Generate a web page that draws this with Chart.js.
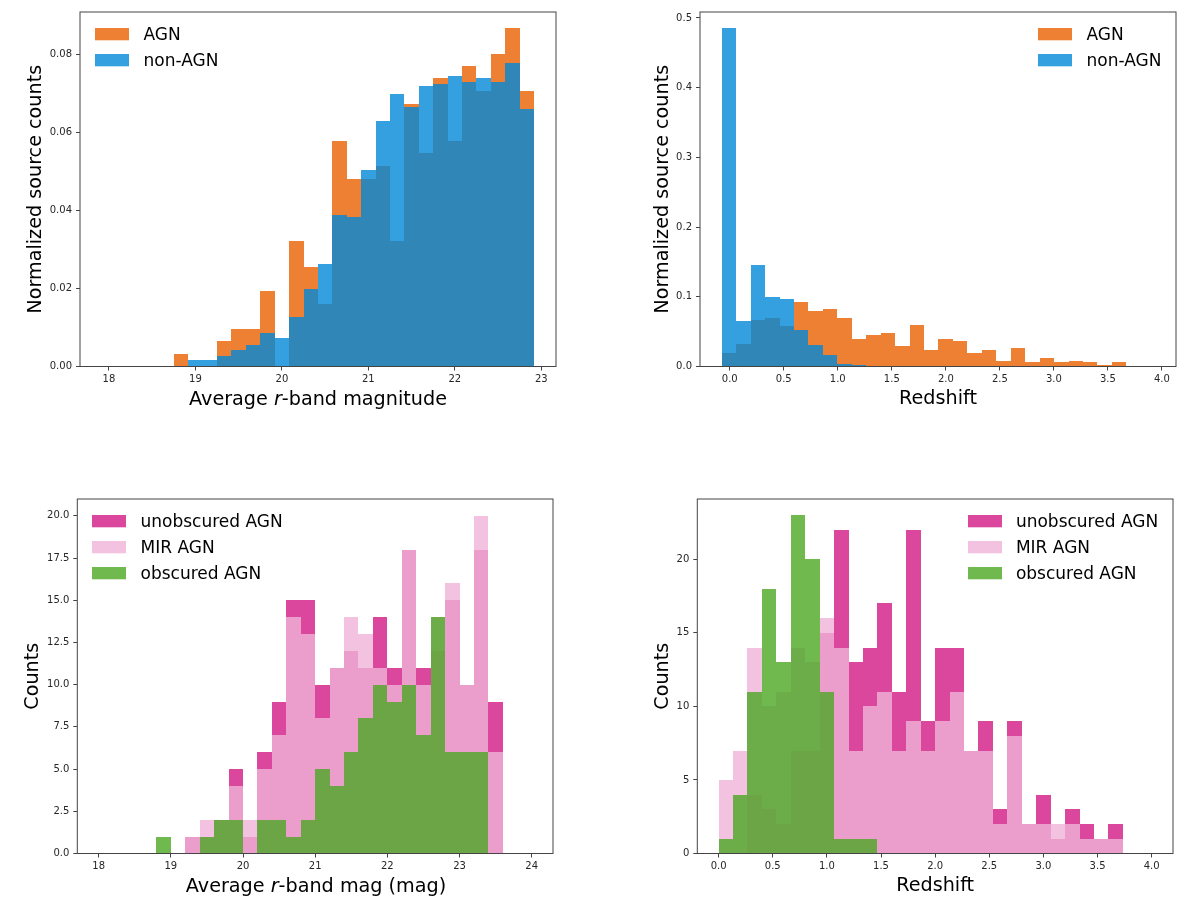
<!DOCTYPE html>
<html>
<head>
<meta charset="utf-8">
<title>AGN histograms</title>
<script src="https://cdn.jsdelivr.net/npm/chart.js@4"></script>
<style>
  html, body { margin: 0; background: #fff; }
  #page { position: relative; width: 1200px; height: 904px; overflow: hidden; }
  canvas { position: absolute; }
  .xtitle { position: absolute; font: 19.2px "DejaVu Sans"; color: #000; white-space: nowrap; transform: translate(-50%, -50%); }
</style>
</head>
<body>
<div id="page">
  <canvas id="magTop" width="600" height="452" style="left:0;top:0"></canvas>
  <canvas id="zTop" width="600" height="452" style="left:600px;top:0"></canvas>
  <canvas id="magBottom" width="600" height="452" style="left:0;top:452px"></canvas>
  <canvas id="zBottom" width="600" height="452" style="left:600px;top:452px"></canvas>
  <div class="xtitle" style="left:318px;top:398px">Average <i>r</i>-band magnitude</div>
  <div class="xtitle" style="left:316px;top:885px">Average <i>r</i>-band mag (mag)</div>
</div>
<script>
// -------- Data --------
const magBinsTop = [18.8333, 19, 19.1667, 19.3333, 19.5, 19.6667, 19.8333, 20, 20.1667, 20.3333, 20.5, 20.6667, 20.8333, 21, 21.1667, 21.3333, 21.5, 21.6667, 21.8333, 22, 22.1667, 22.3333, 22.5, 22.6667, 22.8333];
const agnMag = [0.0032, 0, 0, 0.0065, 0.0097, 0.0097, 0.0194, 0, 0.0322, 0.0256, 0.016, 0.0577, 0.0481, 0.0481, 0.0515, 0.0322, 0.0674, 0.0547, 0.0739, 0.0578, 0.0771, 0.0707, 0.0802, 0.0867, 0.0707];
const nonAgnMag = [0, 0.0016, 0.0016, 0.0027, 0.0042, 0.0054, 0.0086, 0.0073, 0.0127, 0.02, 0.0262, 0.0388, 0.0383, 0.0505, 0.0629, 0.0698, 0.0666, 0.0719, 0.0724, 0.0745, 0.073, 0.0739, 0.073, 0.0777, 0.066];

const zBinsTop = [-0.0072, 0.1265, 0.2603, 0.394, 0.5278, 0.6615, 0.7952, 0.929, 1.0627, 1.1965, 1.3302, 1.4639, 1.5977, 1.7314, 1.8652, 1.9989, 2.1326, 2.2664, 2.4001, 2.5339, 2.6676, 2.8013, 2.9351, 3.0688, 3.2026, 3.3363, 3.47, 3.6038];
const agnZ = [0.019, 0.032, 0.0665, 0.069, 0.058, 0.0928, 0.079, 0.082, 0.069, 0.04, 0.0455, 0.048, 0.029, 0.059, 0.024, 0.04, 0.037, 0.019, 0.024, 0.008, 0.027, 0.006, 0.0115, 0.006, 0.008, 0.006, 0.0024, 0.006];
const nonAgnZ = [0.485, 0.0655, 0.146, 0.1, 0.097, 0.052, 0.031, 0.017, 0.004, 0.002, 0, 0, 0, 0, 0, 0, 0, 0, 0, 0, 0, 0, 0, 0, 0, 0, 0, 0];

const magBinsBottom = [18.9, 19.1, 19.3, 19.5, 19.7, 19.9, 20.1, 20.3, 20.5, 20.7, 20.9, 21.1, 21.3, 21.5, 21.7, 21.9, 22.1, 22.3, 22.5, 22.7, 22.9, 23.1, 23.3, 23.5];
const unobscuredMag = [0, 0, 1, 1, 2, 5, 1, 6, 9, 15, 15, 10, 11, 12, 11, 14, 11, 18, 11, 12, 15, 10, 18, 9];
const mirMag = [0, 0, 1, 2, 2, 4, 2, 5, 7, 14, 13, 8, 11, 14, 13, 11, 10, 18, 10, 14, 16, 10, 20, 6];
const obscuredMag = [1, 0, 0, 1, 2, 2, 0, 2, 2, 1, 2, 5, 4, 6, 8, 10, 9, 10, 7, 14, 6, 6, 6, 0];

const zBinsBottom = [0.0667, 0.2, 0.3333, 0.4667, 0.6, 0.7333, 0.8667, 1, 1.1333, 1.2667, 1.4, 1.5333, 1.6667, 1.8, 1.9333, 2.0667, 2.2, 2.3333, 2.4667, 2.6, 2.7333, 2.8667, 3, 3.1333, 3.2667, 3.4, 3.5333, 3.6667];
const unobscuredZ = [0, 0, 4, 3, 2, 7, 7, 15, 22, 13, 14, 17, 11, 22, 9, 14, 14, 7, 9, 3, 9, 2, 4, 1, 3, 2, 1, 2];
const mirZ = [5, 7, 14, 10, 11, 14, 13, 16, 14, 7, 10, 11, 7, 9, 7, 9, 11, 7, 7, 2, 8, 2, 2, 2, 2, 1, 1, 1];
const obscuredZ = [1, 4, 11, 18, 13, 23, 20, 11, 1, 1, 1, 0, 0, 0, 0, 0, 0, 0, 0, 0, 0, 0, 0, 0, 0, 0, 0, 0];

const magTicksTop = [18, 19, 20, 21, 22, 23];
const magTicksBottom = [18, 19, 20, 21, 22, 23, 24];
const zTicks = [0, 0.5, 1, 1.5, 2, 2.5, 3, 3.5, 4];
const normTicksMag = [0, 0.02, 0.04, 0.06, 0.08];
const normTicksZ = [0, 0.1, 0.2, 0.3, 0.4, 0.5];
const countTicksMag = [0, 2.5, 5, 7.5, 10, 12.5, 15, 17.5, 20];
const countTicksZ = [0, 5, 10, 15, 20];

// -------- Style --------
const ORANGE = 'rgba(232,96,0,0.8)';
const BLUE = 'rgba(1,136,216,0.8)';
const MAGENTA = 'rgba(211,25,134,0.8)';
const PINK = 'rgba(239,179,216,0.8)';
const GREEN = 'rgba(76,167,35,0.8)';
const FONT = '"DejaVu Sans"';
const INK = '#262626';
const FRAME = '#444';
const SWATCH_INSET = 5.7; // pushes the legend text further from its swatch

function swatch(color) {
  // 2px spare at the bottom lifts the box to the visual middle of the text
  const c = document.createElement('canvas');
  c.width = 34;
  c.height = 14;
  const g = c.getContext('2d');
  g.fillStyle = color;
  g.fillRect(0, 0, 34, 12);
  return c;
}

// Frame around the plot area, and legend placed inside the axes
const panelPlugin = {
  id: 'panel',
  afterLayout(chart, args, opts) {
    const legend = chart.legend;
    const pad = legend.options.labels.padding;
    const size = legend.options.labels.font.size;
    legend.left = opts.legendX - SWATCH_INSET - pad;
    legend.top = opts.legendY + 1 - size / 2 - pad;
    legend.right = legend.left + legend.width + 20;
    legend.bottom = legend.top + 120;
  },
  afterDatasetsUpdate(chart) {
    // snap bars to whole pixels, translucent neighbours show seams otherwise
    chart.getSortedVisibleDatasetMetas().forEach((meta) => {
      meta.data.forEach((bar) => {
        const l = Math.round(bar.x - bar.width / 2);
        const r = Math.round(bar.x + bar.width / 2);
        bar.x = (l + r) / 2;
        bar.width = r - l;
        bar.y = Math.round(bar.y);
        bar.height = bar.base - bar.y;
      });
    });
  },
  afterDraw(chart) {
    const { ctx, chartArea: a } = chart;
    ctx.save();
    ctx.strokeStyle = FRAME;
    ctx.lineWidth = 1;
    ctx.strokeRect(a.left, a.top, a.right - a.left, a.bottom - a.top);
    ctx.restore();
  }
};

function axisBase(ticks, format, min, max, pad) {
  return {
    type: 'linear',
    min,
    max,
    offset: false,
    border: { display: false },
    grid: { offset: false, drawOnChartArea: false, tickLength: 4, tickColor: FRAME, tickWidth: 1 },
    ticks: {
      autoSkip: false,
      maxRotation: 0,
      color: INK,
      padding: pad,
      font: { family: FONT, size: 10 },
      callback: format
    },
    afterBuildTicks: (axis) => { axis.ticks = ticks.map((value) => ({ value })); }
  };
}

function makePanel(id, p) {
  // Chart.js paints the first dataset on top, so the list goes in reversed
  const datasets = [...p.series].reverse().map(([label, data, color]) => ({
    label,
    backgroundColor: color,
    borderWidth: 0,
    inflateAmount: 0,
    barPercentage: 1,
    categoryPercentage: 1,
    grouped: false,
    data: p.bins.map((x, i) => ({ x, y: data[i] }))
  }));

  const x = axisBase(p.xTicks, p.xFormat, p.xMin, p.xMax, 3);
  x.afterFit = (s) => { s.height = p.bottomSpace; };
  if (p.xTitle) {
    x.title = { display: true, text: p.xTitle, color: '#000', font: { family: FONT, size: 19.2 }, padding: { top: 0, bottom: p.xTitlePad } };
  }
  const y = axisBase(p.yTicks, p.yFormat, 0, p.yMax, 4);
  y.afterFit = (s) => { s.width = p.left; };
  y.title = { display: true, text: p.yTitle, color: '#000', font: { family: FONT, size: 19.2 }, padding: { top: p.yTitlePad, bottom: 0 } };

  return new Chart(document.getElementById(id), {
    type: 'bar',
    data: { datasets },
    plugins: [panelPlugin],
    options: {
      responsive: false,
      animation: false,
      layout: { padding: { top: p.top, right: p.right, left: 0, bottom: 0 } },
      scales: { x, y },
      plugins: {
        tooltip: { enabled: false },
        panel: { legendX: p.legendX, legendY: p.legendY },
        legend: {
          position: 'chartArea',
          align: 'start',
          reverse: true,
          labels: {
            usePointStyle: true,
            pointStyleWidth: 34 + 2 * SWATCH_INSET,
            boxHeight: 12,
            padding: 9,
            color: '#000',
            font: { family: FONT, size: 17 },
            generateLabels(chart) {
              return Chart.defaults.plugins.legend.labels.generateLabels(chart).map((item) => {
                item.pointStyle = swatch(chart.data.datasets[item.datasetIndex].backgroundColor);
                return item;
              });
            }
          }
        }
      }
    }
  });
}

// -------- Panels --------
window.addEventListener('DOMContentLoaded', () => {
  const fmt = (d) => (v) => Number(v).toFixed(d);

  makePanel('magTop', {
    bins: magBinsTop,
    series: [['AGN', agnMag, ORANGE], ['non-AGN', nonAgnMag, BLUE]],
    xMin: 17.665, xMax: 23.17, yMax: 0.0909,
    xTicks: magTicksTop, yTicks: normTicksMag, xFormat: fmt(0), yFormat: fmt(2),
    yTitle: 'Normalized source counts',
    left: 80, right: 44, top: 12, bottomSpace: 85.5, yTitlePad: 24,
    legendX: 95.3, legendY: 34.3
  });

  makePanel('zTop', {
    bins: zBinsTop,
    series: [['AGN', agnZ, ORANGE], ['non-AGN', nonAgnZ, BLUE]],
    xMin: -0.275, xMax: 4.13, yMax: 0.5086,
    xTicks: zTicks, yTicks: normTicksZ, xFormat: fmt(1), yFormat: fmt(1),
    xTitle: 'Redshift', xTitlePad: 41,
    yTitle: 'Normalized source counts',
    left: 100, right: 24, top: 12, bottomSpace: 85.5, yTitlePad: 51,
    legendX: 438.3, legendY: 34.3
  });

  makePanel('magBottom', {
    bins: magBinsBottom,
    series: [['unobscured AGN', unobscuredMag, MAGENTA], ['MIR AGN', mirMag, PINK], ['obscured AGN', obscuredMag, GREEN]],
    xMin: 17.704, xMax: 24.295, yMax: 21,
    xTicks: magTicksBottom, yTicks: countTicksMag, xFormat: fmt(0), yFormat: fmt(1),
    yTitle: 'Counts',
    left: 77.3, right: 47, top: 47, bottomSpace: 50.5, yTitlePad: 21,
    legendX: 92.3, legendY: 69.3
  });

  makePanel('zBottom', {
    bins: zBinsBottom,
    series: [['unobscured AGN', unobscuredZ, MAGENTA], ['MIR AGN', mirZ, PINK], ['obscured AGN', obscuredZ, GREEN]],
    xMin: -0.197, xMax: 4.197, yMax: 24.1,
    xTicks: zTicks, yTicks: countTicksZ, xFormat: fmt(1), yFormat: fmt(0),
    xTitle: 'Redshift', xTitlePad: 6,
    yTitle: 'Counts',
    left: 97.3, right: 27, top: 47, bottomSpace: 50.5, yTitlePad: 51,
    legendX: 367.7, legendY: 69.3
  });
});
</script>
</body>
</html>
